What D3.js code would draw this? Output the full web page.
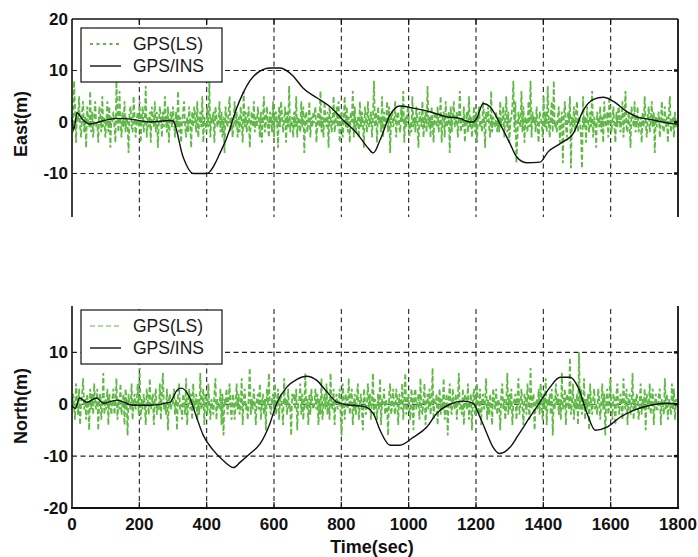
<!DOCTYPE html>
<html>
<head>
<meta charset="utf-8">
<script src="https://cdn.jsdelivr.net/npm/d3@7"></script>
<style>
  html, body { margin: 0; padding: 0; background: #fff; }
  svg { display: block; }
  .tick-label { font-family: "Liberation Sans", Arial, sans-serif; font-weight: bold; font-size: 17px; fill: #111; }
  .axis-title { font-family: "Liberation Sans", Arial, sans-serif; font-weight: bold; font-size: 18px; fill: #111; }
  .legend-text { font-family: "Liberation Sans", Arial, sans-serif; font-size: 17.5px; fill: #1a1a1a; }
</style>
</head>
<body>
<svg id="chart" width="698" height="557"></svg>
<script>
// ---- data -------------------------------------------------------------
const timeTicks = [0, 200, 400, 600, 800, 1000, 1200, 1400, 1600, 1800];
const eastTicks = [20, 10, 0, -10];
const northTicks = [10, 0, -10, -20];
const legendLabels = ["GPS(LS)", "GPS/INS"];

// GPS(LS) least-squares fixes, one every 3 s (metres)
const lsStep = 3;
const eastLS = [
  1,-2,8,3,-4,2,0,5,-1,-3,2,4,-2,1,-5,3,0,-1,6,-2,
  2,-3,1,4,-1,0,-4,3,2,-2,5,-1,1,-3,0,4,-2,3,-5,1,
  0,2,-1,-4,8,1,-2,6,0,-3,2,-1,4,-2,1,0,-6,2,3,-1,
  -2,5,1,-3,0,2,-1,4,-4,1,3,-2,0,7,-3,1,-1,2,-4,3,
  1,-1,4,-2,2,-5,0,3,1,-3,2,-1,5,0,-2,3,-4,1,2,-1,
  3,0,-3,2,-1,6,-2,1,-4,0,2,4,-1,-3,1,-2,3,0,-5,2,
  -1,3,1,-2,4,-3,0,2,-1,5,-4,1,0,-2,3,-1,8,-3,1,0,
  2,-4,3,1,-1,0,4,-2,2,-3,1,-6,3,0,-1,2,5,-2,1,-3,
  0,4,-1,2,-3,1,-2,3,0,-4,6,-1,2,-2,1,3,-5,0,2,-1,
  4,-2,1,-1,3,0,-3,2,-4,1,5,-2,0,3,-1,-3,2,1,-2,4,
  -3,1,2,0,-5,3,-1,4,1,-2,0,3,-4,2,-1,7,-2,0,1,-3,
  2,-1,5,-3,1,0,-2,4,-1,3,-6,1,2,-2,0,4,-3,1,-1,2,
  1,3,-4,0,2,-1,6,-2,1,-3,4,0,-1,2,-5,3,1,-2,0,5,
  -2,0,3,-1,4,-4,1,2,-3,0,5,-1,3,-2,1,-4,2,0,6,-3,
  3,-2,0,1,-3,4,-1,2,0,-5,3,1,-2,4,-1,0,2,-3,1,8,
  -1,2,-4,3,0,1,-2,5,-3,2,-1,0,4,-2,3,-6,1,2,-1,0,
  4,-3,1,2,-1,-2,3,0,6,-4,1,-1,2,3,-3,0,-2,5,-1,1,
  -2,3,0,-5,2,1,-1,4,-3,0,2,-2,7,-1,1,-3,3,0,-4,2,
  1,-1,3,-2,0,5,-4,1,2,-3,4,-1,0,2,-6,3,-2,1,4,-1,
  0,2,-3,1,6,-2,1,-1,3,-4,0,2,-2,5,-1,1,-3,0,3,-2,
  2,-4,1,3,-1,0,-2,4,1,-5,2,0,3,-1,-3,6,-2,1,0,-1,
  2,-2,1,-2,4,-1,0,3,-3,1,5,-2,2,-4,0,1,3,8,-2,4,
  -8,-3,2,0,-1,6,-2,3,-4,1,0,-2,4,-1,8,-3,2,0,1,-2,
  3,-1,-4,2,1,0,-3,5,-1,2,-2,7,0,-3,1,4,-2,8,-1,0,
  -2,1,3,-4,0,2,-8,1,4,-1,-3,2,0,5,-9,1,-1,3,-2,2,
  4,-2,1,0,-3,-9,5,-1,1,-4,3,0,-2,2,-1,6,-3,1,0,-5,
  2,0,-1,3,-2,1,-4,4,0,-1,2,-3,5,1,-2,0,3,-1,-4,2,
  -1,3,2,-2,0,4,-3,1,6,-1,-2,2,0,-5,3,1,-1,4,-2,0,
  3,-2,0,1,-4,2,-1,5,0,-3,1,3,-2,0,4,-1,2,-6,1,-1,
  1,2,-3,0,4,-1,-2,3,-1,1,-4,2,5,-2,0,1,-3,2,-1,0
];
const northLS = [
  -1,2,0,-3,4,1,-2,3,-4,0,2,5,-1,1,-3,2,0,-5,3,-1,
  2,-2,4,0,-1,3,-5,1,2,-3,0,6,-2,1,-1,3,-4,2,0,-2,
  1,3,-2,0,5,-3,1,-1,4,-2,0,2,-4,3,1,-6,2,0,-1,4,
  -3,1,2,-1,0,4,-2,7,-3,1,-1,2,0,-4,3,1,-2,5,-1,0,
  2,-4,1,3,-2,0,-1,4,-3,2,6,-1,0,-2,3,-5,1,2,-1,1,
  0,3,-2,1,-5,2,4,-1,0,-3,2,1,-2,5,-4,0,3,-1,2,-3,
  4,-1,0,2,-3,1,-2,6,-1,0,3,-4,2,1,-2,4,0,-3,1,-1,
  -2,2,5,-3,1,0,-1,3,-4,2,-6,1,0,3,-2,1,4,-1,-3,2,
  1,-3,0,4,-1,2,-2,0,5,-4,1,3,-1,0,-3,2,7,-2,1,-1,
  3,0,-4,1,2,-1,4,-3,0,2,-2,1,-5,3,0,6,-1,-2,1,2,
  -1,4,-2,0,3,-3,1,2,-1,-4,5,0,1,-2,3,-1,0,-6,2,1,
  2,-1,3,-5,0,1,4,-2,2,-3,0,6,-1,1,-4,2,-2,3,0,-1,
  0,3,-1,2,-4,1,-2,5,-3,0,2,-1,4,-2,1,-3,6,0,-1,3,
  -4,1,2,-1,0,3,-2,-6,4,1,-3,2,0,-1,5,-2,1,3,-4,0,
  2,-2,1,4,-3,0,2,-1,-5,3,1,-2,0,4,-1,2,-3,1,6,-2,
  1,0,-3,2,-1,5,-4,1,0,3,-2,1,-1,-6,2,4,-2,0,3,-1,
  -2,3,1,-4,2,0,-1,4,-3,1,6,-2,0,2,-1,-3,3,1,-5,2,
  3,-1,0,2,-3,5,-1,-2,1,4,-4,0,2,-1,3,-2,0,7,-3,1,
  0,2,-4,1,3,-2,1,-1,5,-3,0,2,-6,1,4,-1,-2,3,0,-1,
  2,-3,1,6,-1,0,-2,3,-4,2,1,-1,4,-3,0,2,-5,1,3,-2,
  -1,4,0,-2,3,-4,1,2,-1,0,5,-3,1,-2,2,0,-4,3,1,-1,
  3,-2,1,0,-5,2,4,-1,1,-3,0,6,-2,2,-1,3,-4,0,1,2,
  -3,1,5,-2,0,3,-1,-4,2,1,-2,4,0,-3,7,-1,1,2,-5,0,
  1,-1,3,-2,4,0,-3,2,-1,5,-4,1,0,2,-2,3,-6,1,-1,4,
  0,2,-2,1,-3,6,-1,0,3,-4,2,1,-1,9,-2,0,4,-3,1,-1,
  2,-4,10,-1,3,-2,0,5,-3,1,-1,2,-5,4,0,-2,1,3,-1,0,
  -2,3,1,-3,0,4,-1,2,-6,1,3,-2,0,5,-1,-3,2,1,-4,2,
  4,-1,-2,2,1,-3,5,0,-1,3,-4,1,2,-2,0,6,-3,1,-1,2,
  1,-3,0,4,-2,1,-1,3,-5,2,0,-1,4,-2,1,3,-4,0,2,-1,
  -1,2,3,-4,1,0,-2,5,-1,2,-3,1,0,-2,4,-1,3,-3,1,0
];

// GPS/INS integrated solution (time in s, error in m)
const eastINSTime = [0,5,15,30,53,90,133,180,232,291,300,330,360,400,440,470,480,499,538,588,618,656,686,727,766,805,846,880,895,915,945,974,1013,1063,1113,1152,1182,1191,1203,1221,1241,1271,1301,1321,1350,1390,1414,1450,1489,1519,1549,1578,1608,1648,1678,1727,1797,1800];
const eastINS = [0.4,-1.5,1.8,0.6,-0.4,0.2,0.7,0.5,0,0.3,0.2,-6.8,-10,-10,-6,-1.2,1,4.3,8.8,10.5,10.5,9,6.6,4.7,3,0.4,-2.2,-5.1,-6,-3.5,1.4,3.1,2.7,2,1,0.7,0,0,0.8,3.6,3,-0.3,-4.2,-6.8,-7.9,-7.8,-5.8,-4.2,-2.2,2.3,4.4,4.8,4,2,1,0.4,-0.4,-0.4];
const northINSTime = [0,10,22,44,73,93,133,182,232,291,312,325,350,370,390,420,450,480,499,529,559,588,608,638,668,697,727,757,787,826,866,895,915,945,974,1013,1054,1083,1123,1162,1191,1212,1232,1251,1271,1301,1325,1360,1390,1420,1450,1479,1503,1530,1554,1589,1628,1668,1718,1767,1800];
const northINS = [-0.2,-0.8,1.2,0.4,1.2,0.2,0.8,-0.2,-0.2,0.4,2.7,3.1,1.2,-2.5,-6,-8.9,-10.9,-12.2,-11.2,-9.5,-7.6,-3.7,0.2,3.3,4.8,5.4,4.6,2.4,0.4,-0.2,-0.4,-1.8,-5,-7.9,-7.9,-6.4,-4.4,-1.8,0,0.6,0.2,-2.5,-5.6,-8.3,-9.5,-8.3,-6,-2.5,0.4,3.3,5.2,5.2,3.3,-1.8,-5,-4.4,-2.5,-1.2,-0.2,0.2,0];

// ---- layout -----------------------------------------------------------
const svg = d3.select("#chart");
const GREEN = "#5fba45";
const x = d3.scaleLinear().domain([0, 1800]).range([72, 678]);

const panels = [
  { id: "east", title: "East(m)", ls: eastLS, insT: eastINSTime, ins: eastINS,
    yRange: [225, 19], clip: [0, 217], ticks: eastTicks, showTop: true, showBottom: false,
    titleY: 124, legendTop: 28, legendDash: "3,3.5", legendWidth: 2.2 },
  { id: "north", title: "North(m)", ls: northLS, insT: northINSTime, ins: northINS,
    yRange: [508, 300.5], clip: [306, 520], ticks: northTicks, showTop: false, showBottom: true,
    titleY: 406, legendTop: 310, legendDash: "5,3", legendWidth: 1.1 }
];

panels.forEach(p => {
  const y = d3.scaleLinear().domain([-20, 20]).range(p.yRange);
  const top = y(20), bottom = y(-20);
  const left = x(0), right = x(1800);

  svg.append("clipPath").attr("id", "clip-" + p.id)
    .append("rect").attr("x", 0).attr("y", p.clip[0])
    .attr("width", 698).attr("height", p.clip[1] - p.clip[0]);

  const g = svg.append("g").attr("clip-path", `url(#clip-${p.id})`);

  // grid
  g.selectAll(".vgrid").data(timeTicks.slice(1, -1)).join("line")
    .attr("x1", d => x(d)).attr("x2", d => x(d))
    .attr("y1", top).attr("y2", bottom)
    .attr("stroke", "#222").attr("stroke-width", 1.1).attr("stroke-dasharray", "5,3.5");
  g.selectAll(".hgrid").data([10, 0, -10]).join("line")
    .attr("x1", left).attr("x2", right)
    .attr("y1", d => y(d)).attr("y2", d => y(d))
    .attr("stroke", "#222").attr("stroke-width", 1.1).attr("stroke-dasharray", "5,3.5");

  // GPS(LS) series
  const lsLine = d3.line().x((d, i) => x(i * lsStep)).y(d => y(d));
  g.append("path").datum(p.ls).attr("d", lsLine)
    .attr("fill", "none").attr("stroke", GREEN).attr("stroke-width", 1.8)
    .attr("stroke-dasharray", "5,2.5");

  // GPS/INS series
  const insLine = d3.line().x((d, i) => x(p.insT[i])).y(d => y(d)).curve(d3.curveMonotoneX);
  g.append("path").datum(p.ins).attr("d", insLine)
    .attr("fill", "none").attr("stroke", "#111").attr("stroke-width", 1.4);

  // axes frame
  g.append("line").attr("x1", left).attr("x2", left).attr("y1", top).attr("y2", bottom)
    .attr("stroke", "#111").attr("stroke-width", 1.6);
  g.append("line").attr("x1", right).attr("x2", right).attr("y1", top).attr("y2", bottom)
    .attr("stroke", "#111").attr("stroke-width", 1.8);
  if (p.showTop) {
    g.append("line").attr("x1", left).attr("x2", right).attr("y1", top).attr("y2", top)
      .attr("stroke", "#111").attr("stroke-width", 1.6);
  }
  if (p.showBottom) {
    g.append("line").attr("x1", left - 1).attr("x2", right + 1).attr("y1", bottom).attr("y2", bottom)
      .attr("stroke", "#111").attr("stroke-width", 2.2);
  }
  // inward tick marks on top/bottom and right edges
  g.selectAll(".xt").data(timeTicks.slice(1, -1)).join("line")
    .attr("x1", d => x(d)).attr("x2", d => x(d))
    .attr("y1", p.showTop ? top : bottom).attr("y2", p.showTop ? top + 6 : bottom - 6)
    .attr("stroke", "#111").attr("stroke-width", 1.2);
  g.selectAll(".yt").data([-10, 0, 10]).join("line")
    .attr("x1", right).attr("x2", right - 4)
    .attr("y1", d => y(d)).attr("y2", d => y(d))
    .attr("stroke", "#111").attr("stroke-width", 2.5);

  // y tick labels
  svg.selectAll(".yl-" + p.id).data(p.ticks).join("text")
    .attr("class", "tick-label")
    .attr("x", left - 4).attr("y", d => y(d))
    .attr("text-anchor", "end").attr("dominant-baseline", "central")
    .text(d => d);

  // y title
  svg.append("text").attr("class", "axis-title")
    .attr("transform", `translate(21,${p.titleY}) rotate(-90)`)
    .attr("text-anchor", "middle").attr("dominant-baseline", "central")
    .text(p.title);

  // legend
  const lg = svg.append("g").attr("transform", `translate(81,${p.legendTop})`);
  lg.append("rect").attr("x", 0).attr("y", 0).attr("width", 141).attr("height", 54)
    .attr("fill", "#fff").attr("stroke", "#111").attr("stroke-width", 1.2);
  const rows = [
    { label: legendLabels[0], color: GREEN, dash: p.legendDash, w: p.legendWidth, yy: 16 },
    { label: legendLabels[1], color: "#111", dash: null, w: 1.4, yy: 38 }
  ];
  rows.forEach(r => {
    lg.append("line").attr("x1", 9).attr("x2", 40).attr("y1", r.yy).attr("y2", r.yy)
      .attr("stroke", r.color).attr("stroke-width", r.w)
      .attr("stroke-dasharray", r.dash);
    lg.append("text").attr("class", "legend-text")
      .attr("x", 52).attr("y", r.yy).attr("dominant-baseline", "central")
      .text(r.label);
  });

  // x tick labels and title on the lower panel
  if (p.showBottom) {
    svg.selectAll(".xl").data(timeTicks).join("text")
      .attr("class", "tick-label")
      .attr("x", d => x(d)).attr("y", bottom + 16)
      .attr("text-anchor", "middle").attr("dominant-baseline", "central")
      .text(d => d);
    svg.append("text").attr("class", "axis-title")
      .attr("x", 372).attr("y", 553).attr("text-anchor", "middle")
      .text("Time(sec)");
  }
});
</script>
</body>
</html>
